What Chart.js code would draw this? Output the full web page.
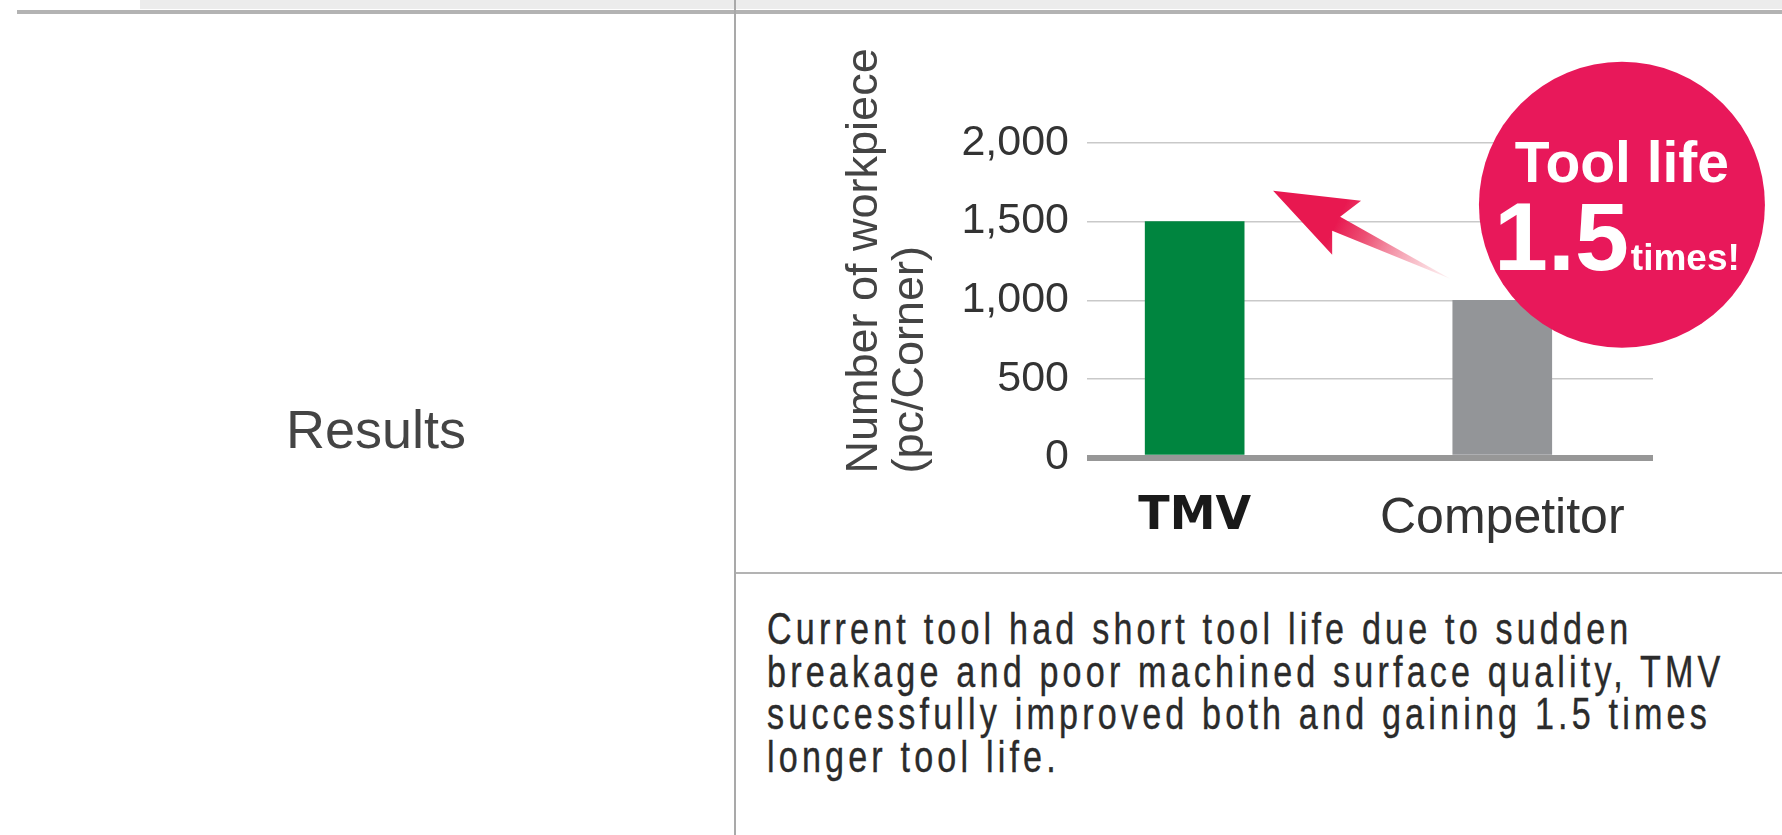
<!DOCTYPE html>
<html>
<head>
<meta charset="utf-8">
<title>Results</title>
<script src="https://cdn.jsdelivr.net/npm/chart.js@4.4.1/dist/chart.umd.min.js"></script>
<style>
  body { margin: 0; background: #fff; width: 1782px; height: 835px; overflow: hidden; position: relative; font-family: "Liberation Sans", Arial, sans-serif; }
  .faixa { position: absolute; left: 140px; top: 0; width: 1642px; height: 9px; background: #ececec; }
  .linha-topo { position: absolute; left: 17px; top: 10px; width: 1765px; height: 4px; background: #b3b3b3; }
  .linha-vert { position: absolute; left: 734px; top: 0; width: 2px; height: 835px; background: #a9a9a9; }
  .linha-meio { position: absolute; left: 736px; top: 572px; width: 1046px; height: 2px; background: #b3b3b3; }
  .rotulo { position: absolute; left: 286px; top: 402px; font-size: 54px; line-height: 54px; color: #444; }
  .texto { position: absolute; left: 767px; top: 608px; font-size: 44px; line-height: 42.7px; color: #2b2b2b; letter-spacing: 5.4px;
           -webkit-text-stroke: 0.4px #2b2b2b;
           white-space: nowrap; transform: scaleX(0.775); transform-origin: left top; }
  #grafico { position: absolute; left: 740px; top: 20px; }
</style>
</head>
<body>
<div class="faixa"></div>
<div class="linha-topo"></div>
<div class="linha-vert"></div>
<div class="linha-meio"></div>
<div class="rotulo">Results</div>
<div class="texto">Current tool had short tool life due to sudden<br>breakage and poor machined surface quality, TMV<br>successfully improved both and gaining 1.5 times<br>longer tool life.</div>
<canvas id="grafico" width="1042" height="550"></canvas>

<script>
// dados do grafico
const categorias = ['TMV', 'Competitor'];
const pecas = [1500, 1000];
const coresBarras = ['#00853f', '#939598'];
const tituloY = ['Number of workpiece', '(pc/Corner)'];
const yMax = 2000;
const yPasso = 500;

const rosa = '#e8185a';

// seta + circulo "Tool life 1.5 times!" (posicoes em valores dos eixos)
const seta = [[0.255, 1696], [0.541, 1633], [0.473, 1531], [0.831, 1136], [0.447, 1442], [0.447, 1289]];
const circulo = { x: 1.389, y: 1607, r: 143 };

// empurra o titulo do eixo y um pouco para baixo, como no original
const ajusteTitulo = {
  id: 'ajusteTitulo',
  afterLayout: function (chart) {
    chart.scales.y.bottom += 16;
  }
};

const destaque = {
  id: 'destaque',
  afterDraw: function (chart) {
    const ctx = chart.ctx;
    const xs = chart.scales.x;
    const ys = chart.scales.y;
    const pts = seta.map(p => [xs.getPixelForValue(p[0]), ys.getPixelForValue(p[1])]);

    ctx.save();
    // seta com degrade
    const g = ctx.createLinearGradient(pts[2][0] - 4, pts[2][1] + 6, pts[3][0], pts[3][1]);
    g.addColorStop(0, 'rgba(232,24,80,1)');
    g.addColorStop(0.25, 'rgba(234,60,100,0.9)');
    g.addColorStop(1, 'rgba(244,160,170,0.15)');
    ctx.beginPath();
    ctx.moveTo(pts[0][0], pts[0][1]);
    for (let i = 1; i < pts.length; i++) ctx.lineTo(pts[i][0], pts[i][1]);
    ctx.closePath();
    ctx.fillStyle = g;
    ctx.fill();

    // circulo
    const cx = xs.getPixelForValue(circulo.x);
    const cy = ys.getPixelForValue(circulo.y);
    ctx.beginPath();
    ctx.arc(cx, cy, circulo.r, 0, Math.PI * 2);
    ctx.fillStyle = rosa;
    ctx.fill();

    ctx.fillStyle = '#fff';
    ctx.textBaseline = 'alphabetic';
    ctx.textAlign = 'center';
    ctx.font = 'bold 57px "Liberation Sans", Arial, sans-serif';
    ctx.fillText('Tool life', cx, cy - 23);

    ctx.textAlign = 'left';
    ctx.font = 'bold 97px "Liberation Sans", Arial, sans-serif';
    const w1 = ctx.measureText('1.5').width;
    ctx.font = 'bold 37px "Liberation Sans", Arial, sans-serif';
    const w2 = ctx.measureText('times!').width;
    const x0 = cx - 5 - (w1 + w2 + 2) / 2;
    ctx.font = 'bold 97px "Liberation Sans", Arial, sans-serif';
    ctx.fillText('1.5', x0, cy + 65);
    ctx.font = 'bold 37px "Liberation Sans", Arial, sans-serif';
    ctx.fillText('times!', x0 + w1 + 2, cy + 65);
    ctx.restore();
  }
};

function plotarGrafico() {
  const dados = {
    datasets: [{
      label: 'Number of workpiece',
      data: pecas.map((v, i) => ({ x: i, y: v })),
      backgroundColor: coresBarras,
      borderWidth: 0,
      barThickness: 99
    }]
  };

  const config = {
    type: 'bar',
    data: dados,
    plugins: [ajusteTitulo, destaque],
    options: {
      responsive: false,
      animation: false,
      layout: { padding: { left: 0, right: 129, top: 123, bottom: 0 } },
      plugins: { legend: { display: false }, tooltip: { enabled: false } },
      scales: {
        x: {
          type: 'linear',
          min: -0.35,
          max: 1.49,
          offset: false,
          grid: { display: false, drawTicks: false },
          border: { display: false },
          afterBuildTicks: function (scale) {
            scale.ticks = categorias.map((c, i) => ({ value: i }));
          },
          afterFit: function (scale) { scale.height = 112.5; },
          ticks: {
            padding: 32,
            autoSkip: false,
            maxRotation: 0,
            callback: function (v) { return categorias[v]; },
            color: function (c) { return c.index === 0 ? '#1a1a1a' : '#333'; },
            font: function (c) {
              return c.index === 0
                ? { family: '"DejaVu Sans", sans-serif', weight: 'bold', size: 46 }
                : { family: '"Liberation Sans", Arial, sans-serif', size: 50 };
            }
          }
        },
        y: {
          min: 0,
          max: yMax,
          afterFit: function (scale) { scale.width = 347; },
          grid: {
            drawTicks: false,
            color: function (c) { return c.tick && c.tick.value === 0 ? '#979797' : '#c9c9c9'; },
            lineWidth: function (c) { return c.tick && c.tick.value === 0 ? 6 : 1.5; }
          },
          border: { display: false },
          ticks: {
            stepSize: yPasso,
            padding: 18,
            color: '#333',
            font: { family: '"Liberation Sans", Arial, sans-serif', size: 43 },
            callback: function (v) { return v.toLocaleString('en-US'); }
          },
          title: {
            display: true,
            text: tituloY,
            align: 'start',
            color: '#444',
            padding: { top: 101, bottom: 0 },
            font: { family: '"Liberation Sans", Arial, sans-serif', size: 45, lineHeight: 1.03 }
          }
        }
      }
    }
  };

  new Chart(document.getElementById('grafico'), config);
}

plotarGrafico();
</script>
</body>
</html>
